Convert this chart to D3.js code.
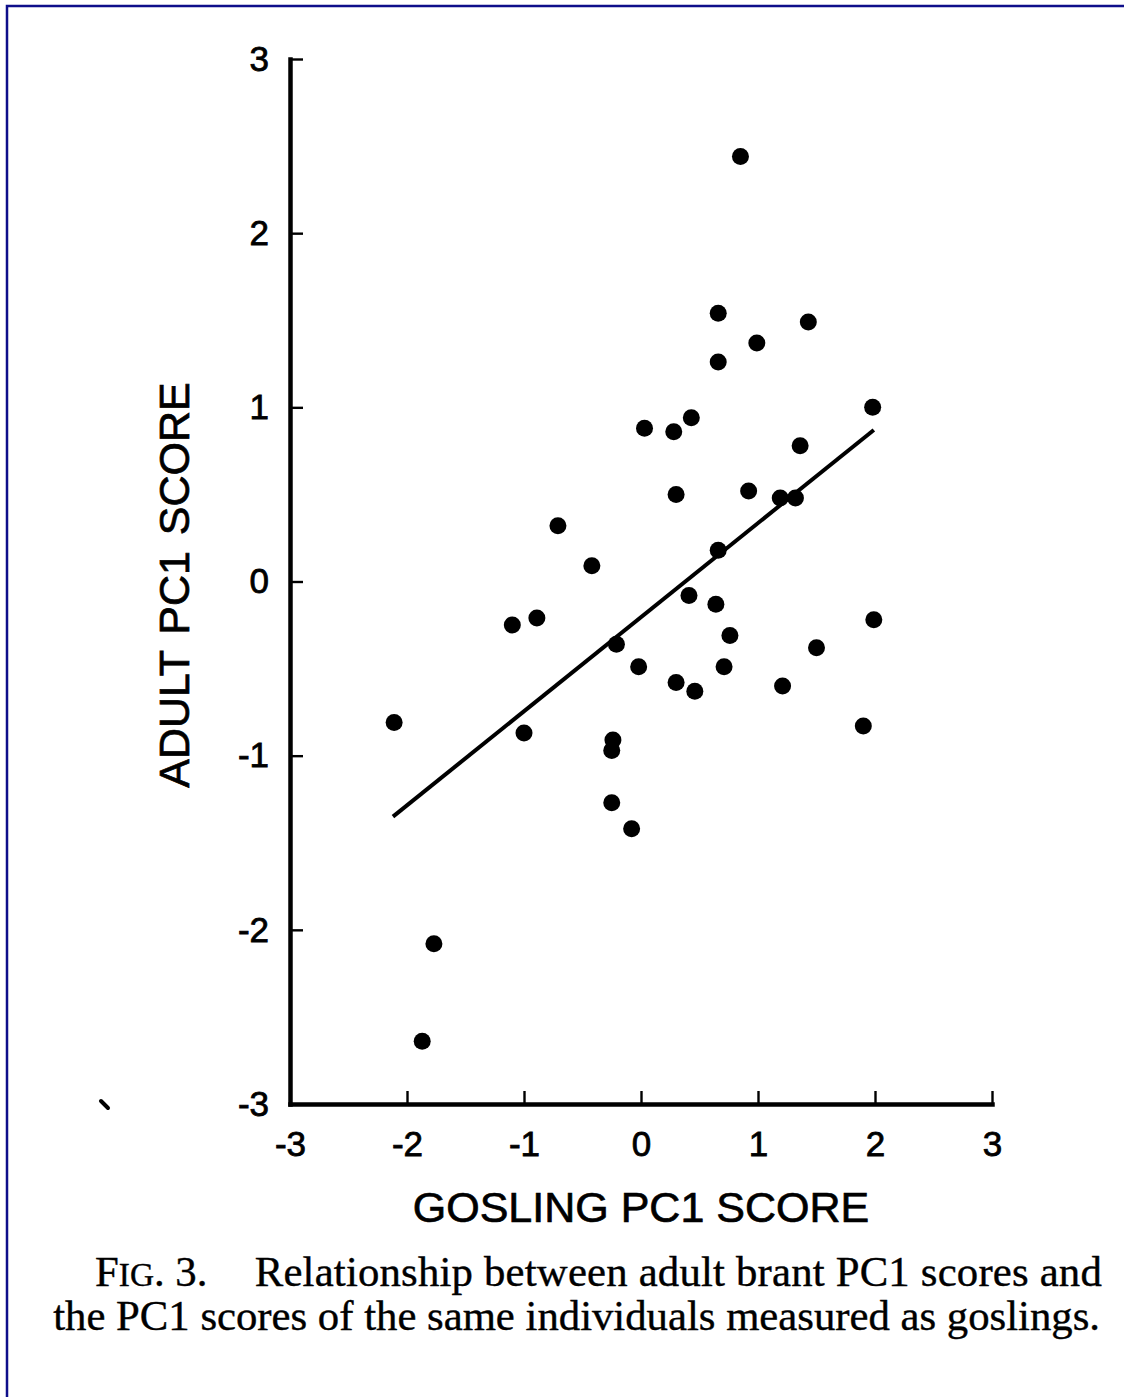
<!DOCTYPE html>
<html>
<head>
<meta charset="utf-8">
<script src="https://cdn.jsdelivr.net/npm/d3@7"></script>
<style>
  body { margin: 0; background: #fff; }
  svg { display: block; }
</style>
</head>
<body>
<div class="grafico"></div>
<script>
// gosling PC1 score (x) and adult PC1 score (y)
const goslingScore = [0.85, 0.66, 1.43, 0.99, 0.66, 1.98, 0.43, 0.03, 0.28, 1.36,
  0.30, 0.92, 1.19, 1.32, -0.71, -0.42, 0.66, 0.41, 0.64, -1.10,
  -0.89, -0.21, 0.76, 1.99, 1.50, -0.02, 0.71, 0.30, 0.46, 1.21,
  -2.11, 1.90, -1.00, -0.24, -0.25, -0.25, -0.08, -1.77, -1.87];
const adultScore = [2.44, 1.54, 1.49, 1.37, 1.26, 1.00, 0.94, 0.88, 0.86, 0.78,
  0.50, 0.52, 0.48, 0.48, 0.32, 0.09, 0.18, -0.08, -0.13, -0.25,
  -0.21, -0.36, -0.31, -0.22, -0.38, -0.49, -0.49, -0.58, -0.63, -0.60,
  -0.81, -0.83, -0.87, -0.91, -0.97, -1.27, -1.42, -2.08, -2.64];

// end points of the fitted line
const fitX = [-2.12, 1.99];
const fitY = [-1.35, 0.87];

const xTicks = [-3, -2, -1, 0, 1, 2, 3];
const yTicks = [-3, -2, -1, 0, 1, 2, 3];

const captionLine1 = "Relationship between adult brant PC1 scores and";
const captionLine2 = "the PC1 scores of the same individuals measured as goslings.";

const width = 1124, height = 1397;
const sans = "'Liberation Sans', Arial, Helvetica, sans-serif";
const serif = "'Liberation Serif', 'Times New Roman', serif";

const svg = d3.select(".grafico")
    .append("svg")
    .attr("width", width)
    .attr("height", height);

// page frame (only top and left edges are in view)
svg.append("path")
    .attr("d", `M7,${height} V6 H${width}`)
    .attr("fill", "none")
    .attr("stroke", "#0e0e8a")
    .attr("stroke-width", 2.5);

const x = d3.scaleLinear().domain([-3, 3]).range([290, 992]);
const y = d3.scaleLinear().domain([-3, 3]).range([1104, 59]);

const xAxis = svg.append("g")
    .attr("transform", `translate(0, ${y(-3)})`)
    .call(d3.axisBottom(x).tickValues(xTicks).tickFormat(d3.format("d"))
        .tickSizeInner(-13).tickSizeOuter(0).tickPadding(27));

const yAxis = svg.append("g")
    .attr("transform", `translate(${x(-3)}, 0)`)
    .call(d3.axisLeft(y).tickValues(yTicks).tickFormat(d3.format("d"))
        .tickSizeInner(-13).tickSizeOuter(0).tickPadding(21));

[xAxis, yAxis].forEach(ax => {
    ax.select(".domain").attr("stroke", "#000").attr("stroke-width", 4.5)
        .attr("stroke-linecap", "square");
    ax.selectAll(".tick line").attr("stroke", "#000").attr("stroke-width", 2.4);
    ax.selectAll(".tick text")
        .attr("fill", "#000")
        .attr("stroke", "#000")
        .attr("stroke-width", 0.8)
        .style("font-family", sans)
        .style("font-size", "35px")
        .text(d => d < 0 ? "-" + Math.abs(d) : d);
});

// fitted line
svg.append("line")
    .attr("x1", x(fitX[0])).attr("y1", y(fitY[0]))
    .attr("x2", x(fitX[1])).attr("y2", y(fitY[1]))
    .attr("stroke", "#000")
    .attr("stroke-width", 4);

// points
svg.append("g").selectAll("circle")
    .data(d3.zip(goslingScore, adultScore))
    .enter().append("circle")
    .attr("cx", d => x(d[0]))
    .attr("cy", d => y(d[1]))
    .attr("r", 8.5)
    .attr("fill", "#000");

// axis titles
svg.append("text")
    .attr("x", x(0))
    .attr("y", 1222)
    .attr("text-anchor", "middle")
    .attr("stroke", "#000")
    .attr("stroke-width", 0.7)
    .style("font-family", sans)
    .style("font-size", "43px")
    .text("GOSLING PC1 SCORE");

svg.append("text")
    .attr("transform", "translate(189, 585) rotate(-90)")
    .attr("text-anchor", "middle")
    .attr("stroke", "#000")
    .attr("stroke-width", 0.7)
    .style("font-family", sans)
    .style("font-size", "43px")
    .style("word-spacing", "4px")
    .text("ADULT PC1 SCORE");

// stray mark on the scan
svg.append("line")
    .attr("x1", 101).attr("y1", 1101)
    .attr("x2", 108).attr("y2", 1108)
    .attr("stroke", "#000")
    .attr("stroke-width", 4)
    .attr("stroke-linecap", "round");

// caption
const cap = svg.append("g").style("font-family", serif)
    .attr("fill", "#000").attr("stroke", "#000").attr("stroke-width", 0.4);

const line2 = cap.append("text")
    .attr("x", 1100).attr("y", 1330)
    .attr("text-anchor", "end")
    .style("font-size", "36px")
    .text(captionLine2);
const fs = 36 * (1100 - 53) / line2.node().getComputedTextLength();
line2.style("font-size", fs + "px");

const fig = cap.append("text")
    .attr("x", 95).attr("y", 1286)
    .style("font-size", fs + "px");
fig.append("tspan").text("F");
fig.append("tspan").style("font-size", (fs * 0.78) + "px").text("IG");
fig.append("tspan").text(". 3.");

cap.append("text")
    .attr("x", 1102).attr("y", 1286)
    .attr("text-anchor", "end")
    .style("font-size", fs + "px")
    .style("letter-spacing", "0.2px")
    .text(captionLine1);
</script>
</body>
</html>
